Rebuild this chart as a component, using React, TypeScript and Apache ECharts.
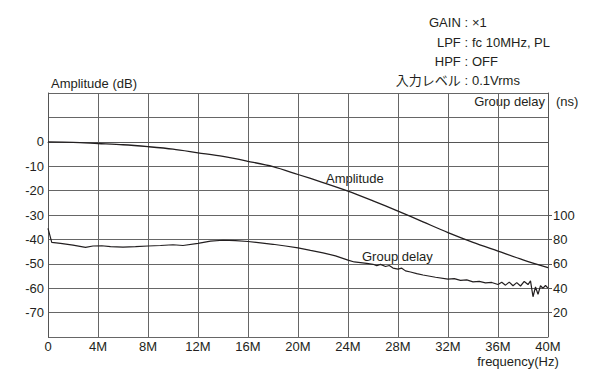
import { useEffect, useRef } from "react";
import * as echarts from "echarts";

const ampFreq = [0, 2, 4, 6, 8, 10, 12, 14, 16, 18, 20, 22, 24, 26, 28, 30, 32, 34, 36, 38, 40];
const ampDb = [0, -0.2, -0.7, -1.2, -2, -3, -4.5, -6, -8, -10.2, -13.4, -16.7, -20.2, -24.2, -28.4, -32.8, -37.2, -41.2, -44.8, -48.4, -51.6];

const gdFreq = [
  0, 0.3, 1, 2, 3, 3.6, 4.3, 5, 6, 7, 8, 9, 10, 10.8, 12, 13, 14, 15, 16, 17, 18, 19, 20, 21, 22, 23,
  24, 24.5, 25, 25.5, 26, 26.3, 26.6, 27, 27.3, 27.6, 28, 28.3, 28.6, 29, 29.5, 30, 31, 32, 32.5, 33,
  33.5, 34, 34.5, 35, 35.5, 36, 36.3, 36.6, 36.9, 37.2, 37.5, 37.8, 38.1, 38.4, 38.6, 38.8, 39, 39.2,
  39.4, 39.6, 39.8, 40,
];
const gdNs = [
  89, 77.5, 76.8, 75.3, 73.5, 74.6, 74.8, 74, 73.6, 74, 74.6, 75, 75.6, 75, 76.8, 78.6, 79.3, 79, 78.3,
  77.2, 76, 74.6, 73.1, 71, 69, 66.5, 63, 61.5, 61, 60.3, 59.6, 58.5, 59.5, 57.8, 58.6, 56.5, 55.6, 56.4,
  54.2, 53.3, 52, 50.8, 49, 47.5, 47.9, 46.4, 46.8, 45.2, 45.6, 44.3, 44.7, 43, 44.8, 42.5, 45, 42, 44.6,
  41.8, 45.5, 43, 46, 33, 41, 35, 42, 40, 42.2, 40,
];

const leftLabels = [0, -10, -20, -30, -40, -50, -60, -70];
const rightLabels = [20, 40, 60, 80, 100];

const infoKeys = ["GAIN", "LPF", "HPF", "入力レベル"];
const infoValues = ["×1", "fc 10MHz, PL", "OFF", "0.1Vrms"];

const FONT = "'Liberation Sans', 'Noto Sans CJK JP', sans-serif";
const INK = "#231f20";
const FS = 13;

export default function App() {
  const ref = useRef<HTMLDivElement>(null);
  useEffect(() => {
    if (!ref.current) return;
    const chart = echarts.init(ref.current, undefined, { renderer: "svg" });
    const infoY = [22, 42, 61, 80];
    const graphics: any[] = [];
    const txt = (text: string, x: number, y: number, align = "left") => ({
      type: "text", x, y,
      style: { text, font: `${FS}px ${FONT}`, fill: INK, align, verticalAlign: "middle" },
    });
    infoKeys.forEach((k, i) => {
      graphics.push(txt(`${k} :`, 468, infoY[i], "right"));
      graphics.push(txt(infoValues[i], 472, infoY[i], "left"));
    });
    graphics.push(txt("Amplitude (dB)", 51, 83));
    graphics.push(txt("Group delay", 545, 101, "right"));
    graphics.push(txt("(ns)", 556, 101));
    graphics.push(txt("Amplitude", 326, 178));
    graphics.push(txt("Group delay", 362, 256));
    graphics.push(txt("frequency(Hz)", 518, 361, "center"));

    chart.setOption({
      animation: false,
      backgroundColor: "#ffffff",
      grid: { left: 48, right: 52, top: 93, bottom: 40, containLabel: false },
      xAxis: {
        type: "value", min: 0, max: 40, interval: 4,
        axisLine: { show: true, lineStyle: { color: "#555", width: 1 } },
        axisTick: { show: false },
        splitLine: { show: true, lineStyle: { color: "#666", width: 1 } },
        axisLabel: {
          color: INK, fontSize: FS, fontFamily: FONT, margin: 3,
          formatter: (v: number) => (v === 0 ? "0" : `${v}M`),
        },
      },
      yAxis: [
        {
          type: "value", min: -80, max: 20, interval: 10,
          axisLine: { show: true, lineStyle: { color: "#555", width: 1 } },
          axisTick: { show: false },
          splitLine: { show: true, lineStyle: { color: "#666", width: 1 } },
          axisLabel: {
            color: INK, fontSize: FS, fontFamily: FONT, margin: 4,
            formatter: (v: number) => (leftLabels.includes(v) ? String(v) : ""),
          },
        },
        {
          type: "value", min: 0, max: 200, interval: 20, position: "right",
          axisLine: { show: true, lineStyle: { color: "#555", width: 1 } },
          axisTick: { show: true, length: 4, inside: false, customValues: rightLabels, lineStyle: { color: "#555" } },
          splitLine: { show: false },
          axisLabel: {
            color: INK, fontSize: FS, fontFamily: FONT, margin: 5,
            customValues: rightLabels,
            formatter: (v: number) => (rightLabels.includes(v) ? String(v) : ""),
          },
        },
      ],
      series: [
        {
          name: "Amplitude", type: "line", yAxisIndex: 0, symbol: "none", smooth: 0.3,
          lineStyle: { color: INK, width: 1.3 },
          data: ampFreq.map((f, i) => [f, ampDb[i]]),
        },
        {
          name: "Group delay", type: "line", yAxisIndex: 1, symbol: "none",
          lineStyle: { color: INK, width: 1.2 },
          data: gdFreq.map((f, i) => [f, gdNs[i]]),
        },
      ],
      graphic: graphics,
    });
    return () => chart.dispose();
  }, []);
  return <div ref={ref} style={{ position: "fixed", left: 0, top: 0, width: 600, height: 377, background: "#fff" }} />;
}
